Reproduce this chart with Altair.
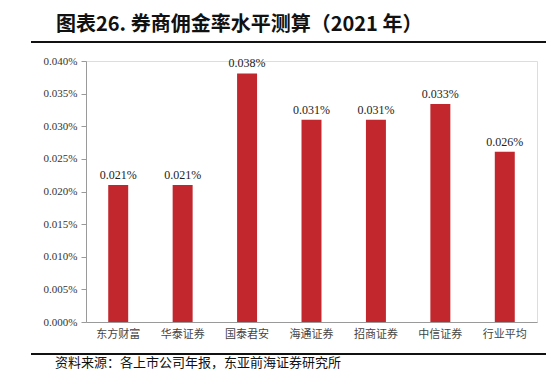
import altair as alt
import pandas as pd

categories = ["东方财富", "华泰证券", "国泰君安", "海通证券", "招商证券", "中信证券", "行业平均"]
rates = [0.0210, 0.0210, 0.0381, 0.0310, 0.0310, 0.0334, 0.0261]
labels = ["0.021%", "0.021%", "0.038%", "0.031%", "0.031%", "0.033%", "0.026%"]
tick_values = [0.0, 0.005, 0.010, 0.015, 0.020, 0.025, 0.030, 0.035, 0.040]
title_text = "图表26. 券商佣金率水平测算（2021 年）"
source_text = "资料来源：各上市公司年报，东亚前海证券研究所"

df = pd.DataFrame({"cat": categories, "rate": rates, "label": labels})

W, H = 451, 261
RED = "#C1272D"
SERIF = "Liberation Serif"
CJK = "Noto Sans CJK SC"

x = alt.X("cat:N", sort=categories,
          scale=alt.Scale(paddingInner=0.69, paddingOuter=0.345),
          axis=alt.Axis(title=None, labelAngle=0, ticks=False, domainColor="#9a9a9a",
                        labelFont=CJK, labelFontSize=11, labelColor="#444", labelPadding=6))
y = alt.Y("rate:Q", scale=alt.Scale(domain=[0, 0.04]),
          axis=alt.Axis(title=None, values=tick_values, grid=False,
                        labelOverlap=False,
                        labelExpr="format(datum.value, '.3f') + '%'",
                        domainColor="#9a9a9a", tickColor="#9a9a9a", tickSize=5,
                        labelFont=SERIF, labelFontSize=11, labelColor="#333", labelPadding=4))

bars = alt.Chart(df).mark_bar(color=RED).encode(x=x, y=y)
text = alt.Chart(df).mark_text(dy=-10, font=SERIF, fontSize=12, color="#222").encode(
    x=x, y=y, text="label:N")

title = alt.Chart(pd.DataFrame({"t": [title_text]})).mark_text(
    align="left", baseline="middle", font=CJK, fontSize=20, fontWeight="bold", color="#111"
).encode(x=alt.value(-30), y=alt.value(-36), text="t:N")
title_line = alt.Chart(pd.DataFrame({"a": [0]})).mark_rule(color="#111", strokeWidth=2).encode(
    x=alt.value(-55), x2=alt.value(470), y=alt.value(-19))
foot_line = alt.Chart(pd.DataFrame({"a": [0]})).mark_rule(color="#111", strokeWidth=2).encode(
    x=alt.value(-55), x2=alt.value(470), y=alt.value(293))
source = alt.Chart(pd.DataFrame({"t": [source_text]})).mark_text(
    align="left", baseline="middle", font=CJK, fontSize=13, color="#111"
).encode(x=alt.value(-31), y=alt.value(302), text="t:N")

chart = alt.layer(bars, text, title, title_line, foot_line, source).properties(
    width=W, height=H,
    autosize=alt.AutoSizeParams(type="none"),
    padding={"left": 78, "top": 53, "right": 9, "bottom": 54},
).configure_view(stroke=None).configure(background="white")

chart.save("out.html", embed_options={"renderer": "svg", "actions": False})
